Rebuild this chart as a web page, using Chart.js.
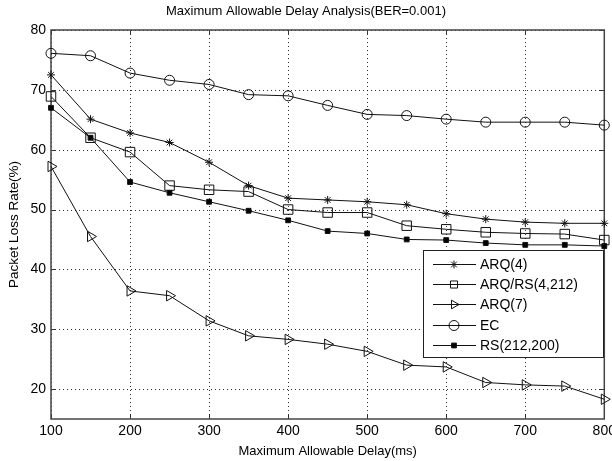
<!DOCTYPE html>
<html>
<head>
<meta charset="utf-8">
<script src="https://cdn.jsdelivr.net/npm/chart.js@4.4.1/dist/chart.umd.min.js"></script>
<style>
  body { margin: 0; background: #fff; }
  canvas { display: block; }
</style>
</head>
<body>
<canvas id="delayChart" width="612" height="461"></canvas>
<script>
// Maximum allowable delay (ms)
const delays = [100, 150, 200, 250, 300, 350, 400, 450, 500, 550, 600, 650, 700, 750, 800];

// Packet loss rate (%) for each scheme
const arq4  = [72.5, 65.1, 62.8, 61.2, 57.9, 54.0, 51.9, 51.6, 51.3, 50.8, 49.3, 48.4, 47.9, 47.7, 47.7];
const arqRs = [68.9, 62.0, 59.6, 54.0, 53.3, 53.0, 50.0, 49.5, 49.5, 47.3, 46.7, 46.2, 46.0, 45.9, 44.9];
const arq7  = [57.2, 45.5, 36.4, 35.6, 31.4, 28.9, 28.3, 27.5, 26.3, 24.0, 23.7, 21.1, 20.7, 20.5, 18.3];
const ec    = [76.1, 75.7, 72.8, 71.6, 70.9, 69.2, 69.0, 67.4, 65.9, 65.7, 65.1, 64.6, 64.6, 64.6, 64.1];
const rs    = [67.0, 62.0, 54.6, 52.8, 51.3, 49.8, 48.2, 46.4, 46.0, 45.0, 44.9, 44.4, 44.1, 44.1, 43.9];

const seriesNames = ['ARQ(4)', 'ARQ/RS(4,212)', 'ARQ(7)', 'EC', 'RS(212,200)'];

// tick labels
const xTicks = [100, 200, 300, 400, 500, 600, 700, 800];
const yTicks = [20, 30, 40, 50, 60, 70, 80];

const FONT = '"Liberation Sans", Arial, sans-serif';
const toPoints = vals => delays.map((d, i) => ({x: d, y: vals[i]}));

function series(label, vals, style) {
  return Object.assign({
    label: label,
    data: toPoints(vals),
    borderColor: '#111',
    borderWidth: 1,
    pointBorderColor: '#111',
    pointBorderWidth: 1,
    pointBackgroundColor: 'rgba(0,0,0,0)',
    pointHoverRadius: 0,
    tension: 0,
    fill: false,
    clip: 10
  }, style);
}

// dotted grid + MATLAB style box with inward ticks
const framePlugin = {
  id: 'frame',
  beforeDatasetsDraw(chart) {
    const {ctx, chartArea: a, scales} = chart;
    ctx.save();
    ctx.strokeStyle = 'rgba(0,0,0,0.8)';
    ctx.lineWidth = 1;
    ctx.setLineDash([1, 3]);
    ctx.beginPath();
    xTicks.forEach(v => {
      const px = Math.round(scales.x.getPixelForValue(v)) + 0.5;
      ctx.moveTo(px, a.top); ctx.lineTo(px, a.bottom);
    });
    yTicks.forEach(v => {
      const py = Math.round(scales.y.getPixelForValue(v)) + 0.5;
      ctx.moveTo(a.left, py); ctx.lineTo(a.right, py);
    });
    ctx.stroke();
    ctx.setLineDash([]);

    ctx.strokeStyle = '#333';
    ctx.beginPath();
    xTicks.forEach(v => {
      const px = Math.round(scales.x.getPixelForValue(v)) + 0.5;
      ctx.moveTo(px, a.bottom); ctx.lineTo(px, a.bottom - 5);
      ctx.moveTo(px, a.top); ctx.lineTo(px, a.top + 5);
    });
    yTicks.forEach(v => {
      const py = Math.round(scales.y.getPixelForValue(v)) + 0.5;
      ctx.moveTo(a.left, py); ctx.lineTo(a.left + 5, py);
      ctx.moveTo(a.right, py); ctx.lineTo(a.right - 5, py);
    });
    ctx.stroke();
    ctx.lineWidth = 1.5;
    ctx.strokeStyle = '#444';
    ctx.strokeRect(a.left, a.top, a.right - a.left, a.bottom - a.top);
    ctx.restore();
  }
};

function legendMarker(ctx, ds, x, y) {
  const opts = {
    pointStyle: ds.pointStyle,
    radius: Math.min(ds.pointRadius, 5),
    rotation: ds.pointRotation || 0,
    borderWidth: 1
  };
  if (Chart.helpers && Chart.helpers.drawPoint) {
    Chart.helpers.drawPoint(ctx, opts, x, y);
    return;
  }
  const r = opts.radius;
  ctx.beginPath();
  if (ds.pointStyle === 'circle') ctx.arc(x, y, r, 0, Math.PI * 2);
  else if (ds.pointStyle === 'rect') ctx.rect(x - r * 0.707, y - r * 0.707, r * 1.414, r * 1.414);
  else if (ds.pointStyle === 'triangle') {
    ctx.moveTo(x + r, y); ctx.lineTo(x - r / 2, y - r * 0.866); ctx.lineTo(x - r / 2, y + r * 0.866); ctx.closePath();
  } else {
    ctx.moveTo(x - r, y); ctx.lineTo(x + r, y); ctx.moveTo(x, y - r); ctx.lineTo(x, y + r);
    ctx.moveTo(x - r * 0.7, y - r * 0.7); ctx.lineTo(x + r * 0.7, y + r * 0.7);
    ctx.moveTo(x - r * 0.7, y + r * 0.7); ctx.lineTo(x + r * 0.7, y - r * 0.7);
  }
  ctx.fill();
  ctx.stroke();
}

// legend box inside the plot, bottom right
const boxLegend = {
  id: 'boxLegend',
  afterDatasetsDraw(chart) {
    const {ctx, chartArea: a} = chart;
    const w = 180, h = 107;
    const x0 = Math.round(a.right - 1 - w), y0 = Math.round(a.top + 220);
    ctx.save();
    ctx.fillStyle = '#fff';
    ctx.fillRect(x0, y0, w, h);
    ctx.strokeStyle = '#222';
    ctx.lineWidth = 1;
    ctx.strokeRect(x0 + 0.5, y0 + 0.5, w, h);
    ctx.font = '14px ' + FONT;
    ctx.textBaseline = 'middle';
    chart.data.datasets.forEach((ds, i) => {
      const y = Math.round(y0 + 14 + i * 20.2) + 0.5;
      ctx.strokeStyle = '#111';
      ctx.lineWidth = 1;
      ctx.beginPath();
      ctx.moveTo(x0 + 10, y); ctx.lineTo(x0 + 53, y);
      ctx.stroke();
      ctx.fillStyle = ds.pointBackgroundColor;
      legendMarker(ctx, ds, x0 + 31, y);
      ctx.fillStyle = '#000';
      ctx.fillText(ds.label, x0 + 57, y + 1);
    });
    ctx.restore();
  }
};

new Chart(document.getElementById('delayChart'), {
  type: 'line',
  data: {
    datasets: [
      series(seriesNames[0], arq4, {pointStyle: 'star', pointRadius: 4}),
      series(seriesNames[1], arqRs, {pointStyle: 'rect', pointRadius: 6.7}),
      series(seriesNames[2], arq7, {pointStyle: 'triangle', pointRadius: 6, pointRotation: 90}),
      series(seriesNames[3], ec, {pointStyle: 'circle', pointRadius: 5}),
      series(seriesNames[4], rs, {pointStyle: 'rect', pointRadius: 3.4, pointBackgroundColor: '#000'})
    ]
  },
  plugins: [framePlugin, boxLegend],
  options: {
    responsive: false,
    animation: false,
    events: [],
    layout: {padding: 0},
    plugins: {
      legend: {display: false},
      tooltip: {enabled: false},
      title: {
        display: true,
        text: 'Maximum Allowable Delay Analysis(BER=0.001)',
        color: '#000',
        font: {family: FONT, size: 13, weight: 'normal'},
        padding: {top: 4, bottom: 10.4}
      }
    },
    scales: {
      x: {
        type: 'linear',
        min: 100,
        max: 800,
        afterBuildTicks: s => { s.ticks = xTicks.map(v => ({value: v})); },
        afterFit: s => { s.height = 42; s.paddingLeft = 0; s.paddingRight = 0; },
        ticks: {color: '#000', font: {family: FONT, size: 14}, padding: 4, maxRotation: 0},
        grid: {display: false, drawTicks: false},
        border: {display: false},
        title: {
          display: true,
          text: 'Maximum Allowable Delay(ms)',
          color: '#000',
          font: {family: FONT, size: 13},
          padding: {top: 2, bottom: 2}
        }
      },
      y: {
        min: 15,
        max: 80,
        afterBuildTicks: s => { s.ticks = yTicks.map(v => ({value: v})); },
        afterFit: s => { s.width = 51; s.paddingTop = 0; s.paddingBottom = 0; },
        ticks: {color: '#000', font: {family: FONT, size: 14}, padding: 5},
        grid: {display: false, drawTicks: false},
        border: {display: false},
        title: {
          display: true,
          text: 'Packet Loss Rate(%)',
          color: '#000',
          font: {family: FONT, size: 13.5},
          padding: {top: 6, bottom: 2}
        }
      }
    }
  }
});
</script>
</body>
</html>
